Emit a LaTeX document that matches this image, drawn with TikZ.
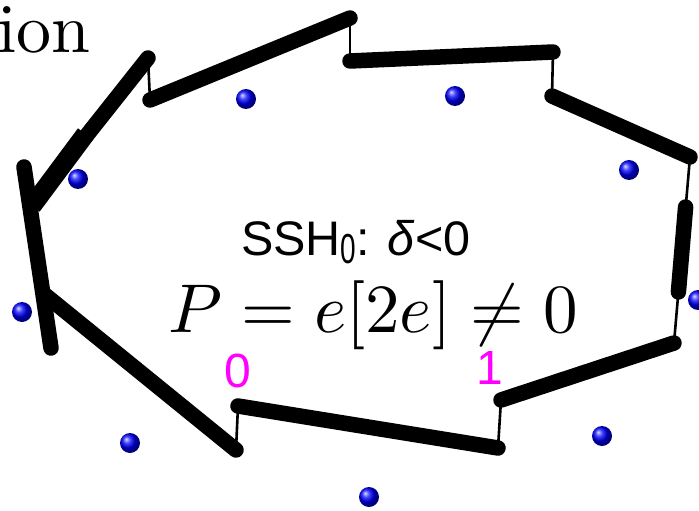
\documentclass[tikz,border=0pt]{standalone}
\usepackage{fontspec}
\newfontfamily\sansA{Liberation Sans}
\definecolor{magentaA}{RGB}{255,0,255}
\tikzset{
  thickseg/.style={line width=15.5pt, line cap=round, black},
  thinseg/.style={line width=2.6pt, black},
  sitedot/.style={ball color=blue, draw=none},
}
\begin{document}
\begin{tikzpicture}[x=1pt,y=-1pt]
\useasboundingbox (0,0) rectangle (699,511);
% coordinates of the polygon chain
\coordinate (a1) at (148,58);
\coordinate (a2) at (87,135);
\coordinate (a2s) at (85.6,134);
\coordinate (a3) at (32,206);
\coordinate (v1) at (24,167);
\coordinate (v2) at (51,348);
\coordinate (b1) at (44,294);
\coordinate (b2) at (236,450);
\coordinate (c1) at (238,406);
\coordinate (c2) at (498,448);
\coordinate (d1) at (501,400);
\coordinate (d2) at (674,343);
\coordinate (m1) at (685.6,207);
\coordinate (m2) at (678.4,292);
\coordinate (e1) at (690,157);
\coordinate (e2) at (552,96);
\coordinate (f1) at (553,52);
\coordinate (f2) at (350,61);
\coordinate (g1) at (350,18);
\coordinate (g2) at (150,100);
% thin links
\draw[thinseg] (b2) -- (c1);
\draw[thinseg] (c2) -- (d1);
\draw[thinseg] (d2) -- (e1);
\draw[thinseg] (e2) -- (f1);
\draw[thinseg] (f2) -- (g1);
\draw[thinseg] (g2) -- (a1);
% thick bonds
\draw[thickseg] (a1) -- (a2);
\draw[line width=19pt, line cap=butt] (a2s) -- (a3);
\draw[thickseg] (v1) -- (v2);
\draw[thickseg] (b1) -- (b2);
\draw[thickseg] (c1) -- (c2);
\draw[thickseg] (d1) -- (d2);
\draw[thickseg] (m1) -- (m2);
\draw[thickseg] (e1) -- (e2);
\draw[thickseg] (f1) -- (f2);
\draw[thickseg] (g1) -- (g2);
% sites
\foreach \n/\p in {s1/{(246,99)}, s2/{(455,96)}, s3/{(629,170)}, s4/{(698,300)},
                   s5/{(602,436)}, s6/{(369,497)}, s7/{(130,443)}, s8/{(22,312)}, s9/{(78,179)}}
  \shade[sitedot] \p circle (10);
% texts
\node[anchor=base west, inner sep=0pt] (ion) at (-3,53) {\scalebox{7.0}{ion}};
\node[anchor=base west, inner sep=0pt] (ssh) at (241,255)
  {\fontsize{48.5}{52}\selectfont\sansA SSH\raisebox{-8pt}{\fontsize{28}{30}\selectfont\scalebox{1}[1.5]{0}}: \textit{δ}<0};
\node[anchor=base west, inner sep=0pt] (pol) at (168,332) {\scalebox{6.9}{$P = e[2e] \neq 0$}};
\node[inner sep=0pt, text=magentaA] (l0) at (238,371) {\fontsize{48}{52}\selectfont\sansA 0};
\node[inner sep=0pt, text=magentaA] (l1) at (490,368) {\fontsize{48}{52}\selectfont\sansA 1};
\end{tikzpicture}
\end{document}
